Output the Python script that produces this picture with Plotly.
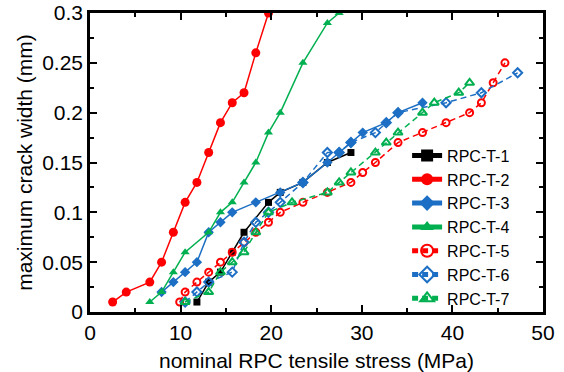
import plotly.graph_objects as go

names = ["RPC-T-1", "RPC-T-2", "RPC-T-3", "RPC-T-4", "RPC-T-5", "RPC-T-6", "RPC-T-7"]

t1_x = [11.8, 13.1, 14.4, 15.7, 17.0, 19.7, 21.0, 23.5, 26.2, 28.8]
t1_y = [0.01, 0.03, 0.04, 0.06, 0.08, 0.11, 0.12, 0.13, 0.15, 0.16]

t2_x = [2.5, 4.0, 6.6, 7.9, 9.2, 10.5, 11.8, 13.1, 14.4, 15.7, 17.0, 18.3, 19.7]
t2_y = [0.01, 0.02, 0.03, 0.05, 0.08, 0.11, 0.13, 0.16, 0.19, 0.21, 0.22, 0.26, 0.30]

t3_x = [7.9, 9.2, 10.5, 11.8, 13.1, 14.4, 15.7, 18.3, 21.0, 23.5, 26.2, 27.5, 28.8, 30.1, 32.7, 34.0, 36.7]
t3_y = [0.02, 0.03, 0.04, 0.05, 0.08, 0.09, 0.10, 0.11, 0.12, 0.13, 0.15, 0.16, 0.17, 0.18, 0.19, 0.20, 0.21]

t4_x = [6.6, 7.9, 9.2, 10.5, 13.1, 14.4, 15.7, 17.0, 18.3, 19.7, 21.0, 23.5, 26.2, 27.5]
t4_y = [0.01, 0.02, 0.04, 0.06, 0.08, 0.10, 0.11, 0.13, 0.15, 0.18, 0.20, 0.25, 0.29, 0.30]

t5_x = [9.9, 10.5, 11.8, 13.1, 14.4, 15.7, 17.0, 18.3, 19.7, 21.0, 23.5, 26.2, 28.8, 30.1, 31.5,
        34.0, 36.7, 39.3, 41.9, 43.2, 44.5, 45.8]
t5_y = [0.01, 0.02, 0.03, 0.04, 0.05, 0.06, 0.07, 0.08, 0.09, 0.10, 0.11, 0.12, 0.13, 0.14, 0.15,
        0.17, 0.18, 0.19, 0.20, 0.21, 0.23, 0.25]

t6_x = [10.5, 11.8, 13.1, 15.7, 17.0, 18.3, 19.7, 21.0, 23.5, 26.2, 27.5, 28.8, 31.5, 32.7, 34.0,
        39.3, 43.2, 47.2]
t6_y = [0.01, 0.02, 0.03, 0.04, 0.07, 0.09, 0.10, 0.11, 0.13, 0.16, 0.16, 0.17, 0.18, 0.19, 0.20,
        0.21, 0.22, 0.24]

t7_x = [10.5, 13.1, 14.4, 15.7, 17.0, 18.3, 19.7, 22.3, 26.2, 27.5, 28.8, 31.5, 32.7, 34.0, 36.7,
        38.0, 40.7, 41.9]
t7_y = [0.01, 0.02, 0.04, 0.05, 0.06, 0.08, 0.10, 0.11, 0.12, 0.13, 0.14, 0.16, 0.17, 0.18, 0.20,
        0.21, 0.22, 0.23]

RED = "#FF0000"
BLUE = "#1C6FC4"
GREEN = "#00B050"
BLACK = "#000000"

series = [
    (t1_x, t1_y, BLACK, "solid", "square", 7),
    (t2_x, t2_y, RED, "solid", "circle", 9),
    (t3_x, t3_y, BLUE, "solid", "diamond", 8),
    (t4_x, t4_y, GREEN, "solid", "triangle-up", 8),
    (t5_x, t5_y, RED, "6px,4px", "circle-open", 7),
    (t6_x, t6_y, BLUE, "6px,4px", "diamond-open", 7),
    (t7_x, t7_y, GREEN, "6px,4px", "triangle-up-open", 8),
]

fig = go.Figure()
for name, (xs, ys, col, dash, sym, sz) in zip(names, series):
    fig.add_trace(go.Scatter(
        x=xs, y=ys, name=name, mode="lines+markers",
        line=dict(color=col, width=1.5, dash=dash),
        marker=dict(symbol=sym, size=sz, color=col, line=dict(color=col, width=2 if "open" in sym else 0)),
    ))

FONT = "Liberation Sans, Arial, sans-serif"
axis_common = dict(
    showline=True, linecolor="black", linewidth=2.5, mirror="allticks",
    ticks="inside", ticklen=7, tickwidth=2, tickcolor="black",
    showgrid=False, zeroline=False, automargin=False,
    tickfont=dict(family=FONT, size=21, color="black"),
)
fig.update_xaxes(
    range=[0, 50], dtick=10, tick0=0,
    minor=dict(ticks="inside", dtick=5, ticklen=4, tickwidth=2, tickcolor="black"),
    title=dict(text="nominal RPC tensile stress (MPa)", font=dict(family=FONT, size=21, color="black"), standoff=12),
    **axis_common,
)
fig.update_yaxes(
    range=[0, 0.3], dtick=0.05, tick0=0,
    minor=dict(ticks="inside", dtick=0.025, ticklen=4, tickwidth=2, tickcolor="black"),
    title=dict(text="maximum crack width (mm)", font=dict(family=FONT, size=21, color="black"), standoff=4),
    **axis_common,
)
fig.update_layout(
    width=564, height=372,
    margin=dict(l=90, r=21, t=13, b=60),
    paper_bgcolor="white", plot_bgcolor="white",
    font=dict(family=FONT, size=20, color="black"),
    legend=dict(
        x=0.70, y=0.58, xanchor="left", yanchor="top",
        bgcolor="rgba(255,255,255,0)", borderwidth=0,
        font=dict(family=FONT, size=16, color="black"),
        tracegroupgap=0, itemsizing="constant",
    ),
)
fig.write_html("out.html")
